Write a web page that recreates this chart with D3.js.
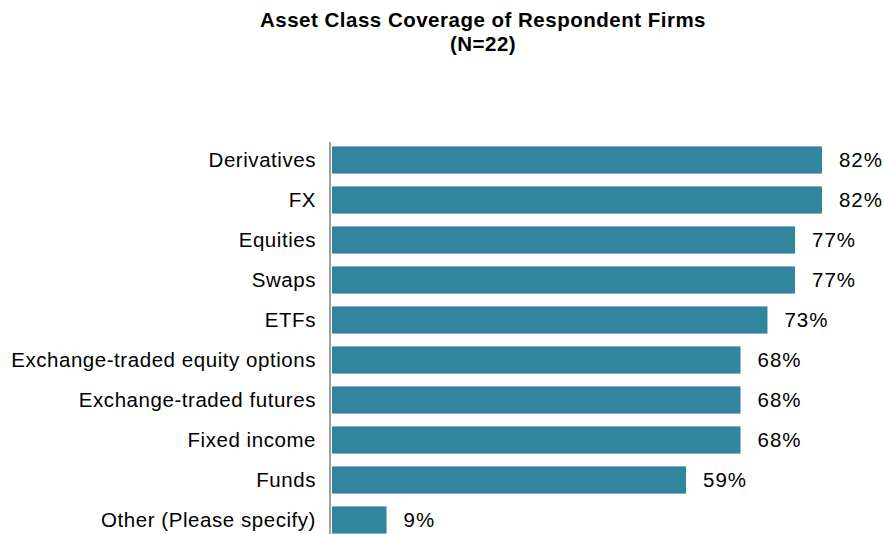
<!DOCTYPE html>
<html>
<head>
<meta charset="utf-8">
<script src="https://cdn.jsdelivr.net/npm/d3@7"></script>
<style>
  html, body { margin: 0; padding: 0; background: #fff; }
  text { font-family: Arial, "Liberation Sans", sans-serif; }
</style>
</head>
<body>
<div class="chart"></div>
<script>
// data: share of respondent firms (N=22) covering each asset class
const categories = ["Derivatives", "FX", "Equities", "Swaps", "ETFs",
  "Exchange-traded equity options", "Exchange-traded futures", "Fixed income",
  "Funds", "Other (Please specify)"]
const values = [81.8, 81.8, 77.3, 77.3, 72.7, 68.2, 68.2, 68.2, 59.1, 9.1]
const titleLines = ["Asset Class Coverage of Respondent Firms", "(N=22)"]

const width = 884, height = 534

const svg = d3.select(".chart")
  .append("svg")
  .attr("width", width)
  .attr("height", height)

// title
svg.append("g")
  .selectAll("text")
  .data(titleLines)
  .join("text")
  .attr("x", 483)
  .attr("y", (d, i) => 27 + i * 24)
  .attr("text-anchor", "middle")
  .attr("font-size", "20.5px")
  .attr("font-weight", "bold")
  .attr("letter-spacing", "0.5px")
  .attr("fill", "#000")
  .text(d => d)

const data = categories.map((c, i) => ({key: c, value: values[i]}))

// scales
const x = d3.scaleLinear()
  .domain([0, 100])
  .range([332, 931])

const y = d3.scaleBand()
  .domain(categories)
  .range([140, 540])
  .paddingInner(0.32)
  .paddingOuter(0.16)

// bars
svg.append("g")
  .selectAll("rect")
  .data(data)
  .join("rect")
  .attr("x", x(0))
  .attr("y", d => y(d.key))
  .attr("width", d => x(d.value) - x(0))
  .attr("height", y.bandwidth())
  .attr("fill", "#31859C")

// category axis (line only, labels drawn by the axis)
const yAxis = svg.append("g")
  .attr("transform", `translate(330,0)`)
  .call(d3.axisLeft(y).tickSize(0).tickPadding(14))
yAxis.select(".domain")
  .attr("stroke", "#a0a0a0")
  .attr("stroke-width", 2)
  .attr("d", "M0,142V534")
yAxis.selectAll(".tick text")
  .attr("font-family", "Arial, 'Liberation Sans', sans-serif")
  .attr("font-size", "20.5px")
  .attr("letter-spacing", "0.55px")
  .attr("fill", "#000")
  .attr("dy", "0.33em")

// value labels
svg.append("g")
  .selectAll("text")
  .data(data)
  .join("text")
  .attr("x", d => x(d.value) + 17)
  .attr("y", d => y(d.key) + y.bandwidth() / 2)
  .attr("dy", "0.35em")
  .attr("font-size", "20.5px")
  .attr("letter-spacing", "1px")
  .attr("fill", "#000")
  .text(d => d3.format(".0f")(d.value) + "%")
</script>
</body>
</html>
